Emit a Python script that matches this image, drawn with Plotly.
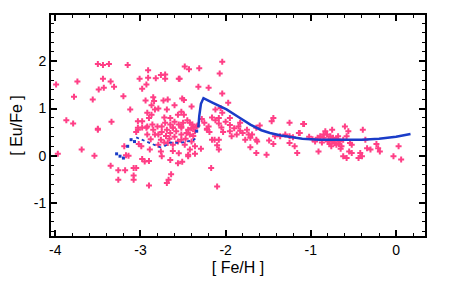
import plotly.graph_objects as go

# Observed stars: [Fe/H] and [Eu/Fe]
obs_feh = [
    -3.99, -3.50, -3.44, -3.37, -3.15, -3.74, -3.44, -3.35, -3.49, -3.43, -3.31, -3.78, -3.56, -3.20, -3.12,
    -3.87, -3.79, -3.34, -3.50, -3.03, -2.98, -2.91, -3.01, -2.91, -2.82, -2.76, -2.71, -2.71, -2.55, -2.93,
    -2.98, -2.85, -2.94, -2.84, -2.73, -2.68, -2.60, -2.87, -2.79, -2.83, -2.69, -2.92, -2.87, -2.90, -2.72,
    -2.65, -2.56, -2.71, -2.65, -2.75, -2.62, -2.55, -2.92, -2.86, -3.03, -2.98,
    -2.04, -2.48, -2.43, -2.31, -2.07, -2.54, -2.32, -2.20, -2.04, -1.97, -2.51, -2.49, -2.40, -2.52, -2.49,
    -2.12, -2.06, -2.04, -2.16, -2.08, -2.28, -2.42, -2.39, -2.33, -2.52, -2.08, -1.83, -1.60, -1.46, -1.44,
    -1.25, -1.09, -2.22,
    -3.50, -3.97, -3.69, -3.54, -3.35, -3.26, -3.18, -3.26, -3.08, -3.05, -3.08, -3.08, -2.90, -3.19, -3.14,
    -3.17, -3.03, -3.05, -2.93, -2.83, -2.99, -3.02, -2.98, -2.95, -2.90, -2.89, -2.76, -2.75, -2.65, -2.56,
    -2.64, -2.67, -2.69, -2.79, -2.69, -2.62, -2.68, -2.62, -2.56, -2.76, -2.79,
    -2.52, -2.46, -2.44, -2.38, -2.36, -2.34, -2.52, -2.48, -2.42, -2.40, -2.36, -2.44, -2.29, -2.36, -2.44,
    -2.51, -2.17, -2.10, -2.22, -2.19, -2.16, -2.13, -2.08, -2.10, -2.08, -2.03, -1.95, -1.93, -1.83, -1.87,
    -1.77, -1.71, -1.69, -1.64, -1.63, -1.73, -1.71, -1.64, -1.52, -1.49, -1.42, -1.36, -1.30, -1.44, -1.25,
    -1.21, -1.25, -1.19, -1.16, -1.14, -1.64,
    -1.08, -1.13, -0.95, -0.91, -0.89, -0.85, -0.83, -0.81, -0.79, -0.77, -0.75, -0.75, -0.74, -0.72, -0.70,
    -0.68, -0.66, -0.64, -0.62, -0.60, -0.58, -0.56, -0.54, -0.52, -0.55, -0.52, -0.62, -0.58, -0.42, -0.40,
    -0.44, -0.36, -0.39, -0.34, -0.30, -0.23, -0.21, -0.19, -0.03, 0.03, 0.06,
    -0.80, -0.78, -0.76, -0.73, -0.70, -0.67, -0.65, -0.85, -0.87, -0.92, -0.98, -1.02,
    -2.85, -2.80, -2.75, -2.70, -2.65, -2.60, -2.58, -2.52, -2.50, -2.47, -2.45, -2.42, -2.40, -2.38, -2.60,
    -2.66, -2.72, -2.88, -2.92, -2.62, -2.55,
    -2.25, -2.20, -2.12, -2.05, -2.00, -1.95, -1.90, -1.85, -1.80, -1.75, -1.95,
]
obs_eufe = [
    1.51, 1.94, 1.92, 1.94, 1.92, 1.57, 1.63, 1.57, 1.40, 1.44, 1.46, 1.25, 1.19, 1.26, 0.98,
    0.75, 0.68, 0.72, 0.57, 0.73, 0.73, 1.81, 1.63, 1.65, 1.64, 1.71, 1.72, 1.63, 1.63, 1.51,
    1.42, 1.24, 1.17, 1.16, 1.17, 1.19, 1.07, 1.07, 1.00, 0.98, 0.98, 0.91, 0.87, 0.80, 0.81,
    0.80, 0.87, 0.70, 0.66, 0.62, 0.60, 0.66, 0.62, 0.66, 0.59, 0.60,
    1.99, 1.89, 1.83, 1.85, 1.74, 1.63, 1.46, 1.44, 1.32, 1.12, 1.21, 1.18, 1.04, 0.93, 0.87,
    0.98, 1.01, 0.91, 0.81, 0.80, 0.78, 0.70, 0.66, 0.64, 0.62, 0.68, 0.70, 0.64, 0.73, 0.80,
    0.70, 0.67, 0.57,
    0.55, 0.04, 0.13, 0.00, -0.21, -0.31, -0.31, -0.51, -0.26, -0.26, -0.42, -0.51, -0.63, 0.20, 0.00,
    0.01, 0.55, 0.50, 0.59, 0.45, 0.20, 0.25, -0.07, -0.12, -0.11, 0.13, 0.09, -0.01, -0.09, -0.16,
    -0.39, -0.51, -0.58, 0.45, 0.55, 0.59, 0.27, 0.23, 0.30, 0.34, 0.23,
    0.59, 0.48, 0.55, 0.60, 0.52, 0.62, 0.34, 0.23, 0.13, 0.30, 0.20, 0.02, 0.15, 0.04, -0.01,
    -0.13, -0.26, -0.65, 0.55, 0.50, 0.34, 0.34, 0.34, 0.22, 0.13, 0.50, 0.52, 0.41, 0.53, 0.45,
    0.34, 0.38, 0.45, 0.34, 0.30, 0.45, 0.18, 0.06, 0.02, 0.32, 0.41, 0.41, 0.45, 0.25, 0.41,
    0.39, 0.27, 0.20, 0.06, 0.48, 0.59,
    0.67, 0.48, 0.30, 0.09, 0.41, 0.38, 0.52, 0.45, 0.34, 0.41, 0.30, 0.55, 0.38, 0.27, 0.23,
    0.41, 0.30, 0.20, 0.34, 0.62, 0.41, 0.52, 0.27, 0.23, 0.09, 0.06, -0.01, -0.05, 0.06, -0.01,
    -0.05, 0.34, 0.55, 0.16, 0.13, 0.25, 0.16, 0.09, -0.01, 0.20, -0.08,
    0.30, 0.25, 0.20, 0.32, 0.36, 0.25, 0.15, 0.45, 0.28, 0.38, 0.35, 0.40,
    0.55, 0.62, 0.50, 0.42, 0.48, 0.40, 0.52, 0.45, 0.70, 0.36, 0.75, 0.45, 0.58, 0.42, 0.72,
    0.36, 0.28, 0.35, 0.45, 0.10, 0.05,
    0.70, 0.62, 0.75, 0.60, 0.72, 0.65, 0.58, 0.62, 0.48, 0.55, 0.80,
]

# Model (dotted early part)
model_dot1_feh = [-3.05, -2.89, -2.73]
model_dot1_eufe = [0.39, 0.27, 0.15]
model_dot2_feh = [-2.72, -2.65, -2.54, -2.45, -2.38, -2.33]
model_dot2_eufe = [0.20, 0.28, 0.27, 0.30, 0.33, 0.40]
# Model scattered dots
model_pts_feh = [-3.28, -3.24, -3.20, -3.15, -3.11, -3.07, -2.34]
model_pts_eufe = [0.04, -0.01, -0.05, 0.20, 0.34, 0.30, 0.52]
# Model (solid part)
model_feh = [-2.32, -2.31, -2.29, -2.26, -2.15, -1.99, -1.85, -1.71, -1.58, -1.48, -1.35, -1.24, -1.10,
             -0.90, -0.60, -0.40, -0.20, 0.00, 0.17]
model_eufe = [0.60, 0.84, 1.10, 1.22, 1.12, 0.98, 0.82, 0.66, 0.54, 0.48, 0.43, 0.40, 0.36,
              0.34, 0.34, 0.34, 0.36, 0.40, 0.46]

x_tick_vals = [-4, -3, -2, -1, 0]
x_tick_labels = ["-4", "-3", "-2", "-1", "0"]
y_tick_vals = [-1, 0, 1, 2]
y_tick_labels = ["-1", "0", "1", "2"]

PINK = "#ff3f86"
BLUE = "#1a3cc8"
FONT = "Liberation Sans, Arial, sans-serif"

fig = go.Figure()
fig.add_trace(go.Scatter(x=obs_feh, y=obs_eufe, mode="markers",
                         marker=dict(symbol="cross", size=5, color=PINK, line=dict(width=0)),
                         showlegend=False))
fig.add_trace(go.Scatter(x=model_dot1_feh, y=model_dot1_eufe, mode="lines",
                         line=dict(color=BLUE, width=1.8, dash="dot"), showlegend=False))
fig.add_trace(go.Scatter(x=model_dot2_feh, y=model_dot2_eufe, mode="lines",
                         line=dict(color=BLUE, width=1.8, dash="dot"), showlegend=False))
fig.add_trace(go.Scatter(x=model_pts_feh, y=model_pts_eufe, mode="markers",
                         marker=dict(symbol="square", size=3, color=BLUE), showlegend=False))
fig.add_trace(go.Scatter(x=model_feh, y=model_eufe, mode="lines",
                         line=dict(color=BLUE, width=2.5), showlegend=False))

axis_common = dict(
    showline=True, linecolor="black", linewidth=2, mirror="ticks",
    ticks="inside", ticklen=6, tickwidth=1.5, tickcolor="black",
    showgrid=False, zeroline=False, automargin=False,
    tickfont=dict(family=FONT, size=14, color="black"),
)

# The page places the figure 8 px in from the top-left corner, so the
# figure is sized to the remaining window area.
fig.update_layout(
    width=451, height=274,
    margin=dict(l=43, r=34, t=7, b=46),
    paper_bgcolor="white", plot_bgcolor="white",
    xaxis=dict(range=[-4.05, 0.34], tickvals=x_tick_vals, ticktext=x_tick_labels,
               minor=dict(dtick=0.2, tick0=0, ticks="inside", ticklen=3, tickwidth=1.2, tickcolor="black"),
               title=dict(text="[ Fe/H ]", font=dict(family=FONT, size=16, color="black"),
                          standoff=5),
               **axis_common),
    yaxis=dict(range=[-1.7, 2.98], tickvals=y_tick_vals, ticktext=y_tick_labels,
               minor=dict(dtick=0.2, tick0=0, ticks="inside", ticklen=3, tickwidth=1.2, tickcolor="black"),
               title=dict(text="[ Eu/Fe ]", font=dict(family=FONT, size=16, color="black"),
                          standoff=14),
               **axis_common),
)

fig.write_html("out.html")
